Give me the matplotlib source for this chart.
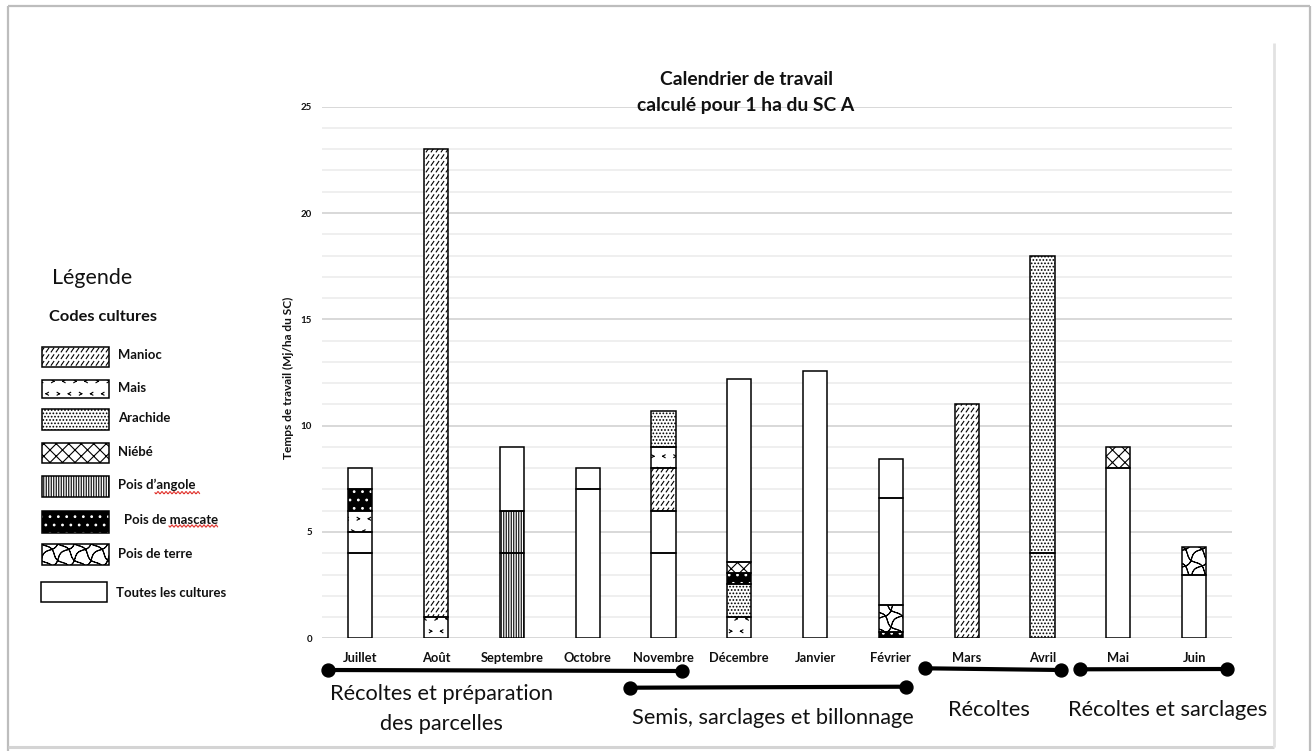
import warnings
warnings.filterwarnings("ignore")
import numpy as np
import matplotlib
matplotlib.use("Agg")
import matplotlib.pyplot as plt
import matplotlib.hatch as mhatch
from matplotlib.path import Path
from matplotlib.patches import Rectangle
from matplotlib.transforms import blended_transform_factory

# ---------------- data ----------------
months = ["Juillet", "Août", "Septembre", "Octobre", "Novembre", "Décembre",
          "Janvier", "Février", "Mars", "Avril", "Mai", "Juin"]

crops = ["Manioc", "Mais", "Arachide", "Niébé", "Pois d’angole",
         "Pois de mascate", "Pois de terre", "Toutes les cultures"]

T = "Toutes les cultures"
# stacked segments of each month, bottom to top
seg_crops = [
    [T, T, "Mais", "Pois de mascate", T],
    ["Mais", "Manioc"],
    ["Pois d’angole", "Pois d’angole", T],
    [T, T],
    [T, T, "Manioc", "Mais", "Arachide"],
    ["Mais", "Arachide", "Pois de mascate", "Niébé", T],
    [T],
    ["Pois de mascate", "Pois de terre", T, T],
    ["Manioc"],
    ["Arachide", "Arachide"],
    [T, "Niébé"],
    [T, "Pois de terre"],
]
seg_values = [
    [4, 1, 1, 1, 1],
    [1, 22],
    [4, 2, 3],
    [7, 1],
    [4, 2, 2, 1, 1.7],
    [1, 1.55, 0.52, 0.53, 8.6],
    [12.55],
    [0.28, 1.3, 5.0, 1.85],
    [11],
    [4, 14],
    [8, 1],
    [3, 1.3],
]
y_ticks = [0, 5, 10, 15, 20, 25]
title_lines = ["Calendrier de travail", "calculé pour 1 ha du SC A"]
y_label = "Temps de travail (Mj/ha du SC)"

period_labels = ["Récoltes et préparation\ndes parcelles",
                 "Semis, sarclages et billonnage",
                 "Récoltes", "Récoltes et sarclages"]
period_start = [-0.43, 3.56, 7.45, 9.5]   # in month positions
period_end = [4.24, 7.2, 9.25, 11.43]

# ---------------- custom hatches ----------------
def _segs_dashes():
    nx, ny = 20, 15
    s = []
    for j in range(ny):
        for i in range(nx):
            cx, cy = (i + 0.5) / nx, (j + 0.5) / ny
            s.append([[cx - 0.013, cy - 0.019], [cx + 0.013, cy + 0.019]])
    return s

def _segs_chevrons():
    nx, ny = 9, 8
    w, h = 0.012, 0.014
    s = []
    for j in range(ny):
        for i in range(nx):
            cx = (i + 0.25 + 0.5 * (j % 2)) / nx
            cy = (j + 0.5) / ny
            d = 1 if (i + j) % 2 == 0 else -1
            tip = [cx - d * w, cy]
            s.append([[cx + d * w, cy + h], tip])
            s.append([tip, [cx + d * w, cy - h]])
    return s

def _segs_waves():
    n, m, A = 6, 6, 0.02
    xs = np.linspace(-0.05, 1.05, 111)
    r2 = np.sqrt(2)
    s = []
    off = A * np.sin(2 * np.pi * m * xs)
    for k in range(-n, n + 1):
        c = k / n
        px = xs + off / r2
        py = xs + c - off / r2
        for a in range(len(xs) - 1):
            s.append([[px[a], py[a]], [px[a + 1], py[a + 1]]])
    off2 = A * np.sin(2 * np.pi * m * xs + np.pi / 2)
    for k in range(0, 2 * n + 1):
        c = k / n
        px = xs + off2 / r2
        py = -xs + c + off2 / r2
        for a in range(len(xs) - 1):
            s.append([[px[a], py[a]], [px[a + 1], py[a + 1]]])
    return s

def _segs_cross():
    n = 8
    s = []
    for k in range(-n, n + 1):
        c = k / n
        s.append([[-0.05, -0.05 + c], [1.05, 1.05 + c]])
    for k in range(0, 2 * n + 1):
        c = k / n
        s.append([[-0.05, 0.05 + c], [1.05, -1.05 + c]])
    return s

def _segs_vert():
    n = 40
    return [[[(i + 0.5) / n, -0.02], [(i + 0.5) / n, 1.02]] for i in range(n)]

def _register(char, segs):
    segs = np.asarray(segs, float)
    class _H(mhatch.HatchPatternBase):
        def __init__(self, hatch, density):
            self.num_vertices = segs.shape[0] * 2 if (hatch and char in hatch) else 0
        def set_vertices_and_codes(self, vertices, codes):
            vertices[:] = segs.reshape(-1, 2)
            codes[0::2] = Path.MOVETO
            codes[1::2] = Path.LINETO
    mhatch._hatch_types.append(_H)

try:
    _register("d", _segs_dashes())
    _register("m", _segs_chevrons())
    _register("w", _segs_waves())
    _register("n", _segs_cross())
    _register("v", _segs_vert())
    crop_hatch = ["d", "m", ".....", "n", "v", "..", "w", None]
except Exception:
    crop_hatch = ["///", "..", ".....", "xx", "||||", "..", "oo", None]
crop_face = ["white", "white", "white", "white", "white", "black", "white", "white"]
crop_hcol = ["black", "black", "black", "black", "black", "white", "black", "black"]

plt.rcParams["hatch.linewidth"] = 0.8
FAM = ["Lato", "DejaVu Sans"]
plt.rcParams["font.family"] = FAM
TXT = "#111111"

# ---------------- figure ----------------
W, H = 1314, 751
fig = plt.figure(figsize=(W / 100, H / 100), dpi=100)
fig.patch.set_facecolor("white")
renderer = fig.canvas.get_renderer()

def fit(s, target, weight="normal", base=10.0):
    t = fig.text(0, 0, s, fontsize=base, fontweight=weight, family=FAM)
    w = t.get_window_extent(renderer).width
    t.remove()
    return base * target / w

AX_L, AX_T, AX_R, AX_B = 322, 106.7, 1232, 638.3
ax = fig.add_axes([AX_L / W, 1 - AX_B / H, (AX_R - AX_L) / W, (AX_B - AX_T) / H])
ov = fig.add_axes([0, 0, 1, 1], zorder=5)
ov.set_xlim(0, W)
ov.set_ylim(H, 0)
ov.axis("off")

BW = 0.317
x = np.arange(len(months))

def draw_segment(axx, xc, bottom, h, crop):
    k = crops.index(crop)
    axx.bar(xc, h, bottom=bottom, width=BW, color=crop_face[k],
            edgecolor=crop_hcol[k], hatch=crop_hatch[k], linewidth=0, zorder=3)
    axx.bar(xc, h, bottom=bottom, width=BW, fill=False,
            edgecolor="black", linewidth=1.1, zorder=4)

for i in range(len(months)):
    b = 0.0
    for crop, v in zip(seg_crops[i], seg_values[i]):
        draw_segment(ax, x[i], b, v, crop)
        b += v

ax.set_xlim(-0.505, 11.5)
ax.set_ylim(0, 25)
ax.set_yticks(y_ticks)
ax.set_yticks(np.arange(0, 26, 1), minor=True)
ax.grid(True, which="minor", axis="y", color="#ececec", lw=1.2)
ax.grid(True, which="major", axis="y", color="#d6d6d6", lw=1.3)
ax.set_axisbelow(True)
for s in ax.spines.values():
    s.set_visible(False)

fs_month = fit("Septembre", 63, "bold")
fs_ytick = fit("15", 11.3, "bold")
ax.set_xticks(x)
ax.set_xticklabels(months, fontsize=fs_month, fontweight="bold", color=TXT)
ax.tick_params(which="both", length=0)
ax.tick_params(axis="x", pad=23.4 * 72 / 100)
ax.tick_params(axis="y", pad=10 * 72 / 100, labelsize=fs_ytick)
for lbl in ax.get_xticklabels():
    lbl.set_va("baseline")
for lbl in ax.get_yticklabels():
    lbl.set_fontweight("bold")
    lbl.set_color(TXT)

# title
fs_title = fit(title_lines[0], 174, "bold")
ov.text(746, 85, title_lines[0], ha="center", va="baseline", fontsize=fs_title,
        fontweight="bold", color=TXT)
ov.text(746, 110.7, title_lines[1], ha="center", va="baseline", fontsize=fs_title,
        fontweight="bold", color=TXT)

# y label
fs_yl = fit(y_label, 163, "bold")
ov.text(288, 378, y_label, rotation=90, ha="center", va="center", fontsize=fs_yl,
        fontweight="bold", color=TXT)

# periods below the months
bt = blended_transform_factory(ax.transData, ov.transData)
period_y0 = [670, 687.7, 668.3, 669.3]
period_y1 = [671, 686.7, 670, 669]
for a, b_, y0, y1 in zip(period_start, period_end, period_y0, period_y1):
    ax.plot([a, b_], [y0, y1], transform=bt, color="black", lw=3.0,
            marker="o", ms=9.3, solid_capstyle="butt", clip_on=False, zorder=6)

fs_per = fit(period_labels[1], 282, "normal")
label_x = [1.074, 5.445, 8.30, 10.65]
label_base = [700, 724, 716.5, 716.5]
for lx, lb, txt in zip(label_x, label_base, period_labels):
    for li, line in enumerate(txt.split("\n")):
        ax.text(lx, lb + 30 * li, line, transform=bt, ha="center", va="baseline",
                fontsize=fs_per, color=TXT, clip_on=False)

# legend
fs_leg_title = fit("Légende", 80, "normal")
ov.text(51.7, 278, "Légende", ha="left", va="center", fontsize=fs_leg_title, color=TXT)
fs_codes = fit("Codes cultures", 109, "bold")
ov.text(49.3, 316.7, "Codes cultures", ha="left", va="center", fontsize=fs_codes,
        fontweight="bold", color=TXT)

box_x = [42, 42, 42, 42, 42, 42, 42, 40.7]
box_w = [67, 67, 67, 67, 67, 67, 67, 66.3]
box_top = [346.7, 380, 409, 442.7, 476, 511, 544, 581.7]
box_h = [20, 18, 21, 20.3, 20.7, 21.7, 21, 20]
lab_x = [118, 118, 118, 118, 118, 124, 118, 116]
lab_y = [355, 387.5, 418, 452, 485, 520, 554, 593]
fs_leg = fit("Toutes les cultures", 110, "bold")
for k, crop in enumerate(crops):
    ov.add_patch(Rectangle((box_x[k], box_top[k]), box_w[k], box_h[k],
                           facecolor=crop_face[k], edgecolor=crop_hcol[k],
                           hatch=crop_hatch[k], linewidth=0))
    ov.add_patch(Rectangle((box_x[k], box_top[k]), box_w[k], box_h[k],
                           fill=False, edgecolor="black", linewidth=1.1))
    ov.text(lab_x[k], lab_y[k], crop, ha="left", va="center", fontsize=fs_leg,
            fontweight="bold", color=TXT)

# spell-check wavy underlines
for x0, x1, yy in [(155, 200, 492.7), (169, 218, 526)]:
    xs = np.arange(x0, x1, 0.5)
    ov.plot(xs, yy + 1.1 * np.sin(2 * np.pi * (xs - x0) / 4.0), color="#e0302a", lw=0.8)

# page frame
ov.plot([8, 1310], [6, 6], color="#bdbdbd", lw=1.6, solid_capstyle="butt")
ov.plot([8, 8], [6, 751], color="#bdbdbd", lw=1.6, solid_capstyle="butt")
ov.plot([1310, 1310], [6, 751], color="#bdbdbd", lw=1.6, solid_capstyle="butt")
ov.plot([8, 1274], [747, 747], color="#d4d4d4", lw=2.2, solid_capstyle="butt")
ov.plot([1273.5, 1273.5], [43, 747], color="#e2e2e2", lw=2.0, solid_capstyle="butt")

fig.savefig("out.png", dpi=100, facecolor="white")
